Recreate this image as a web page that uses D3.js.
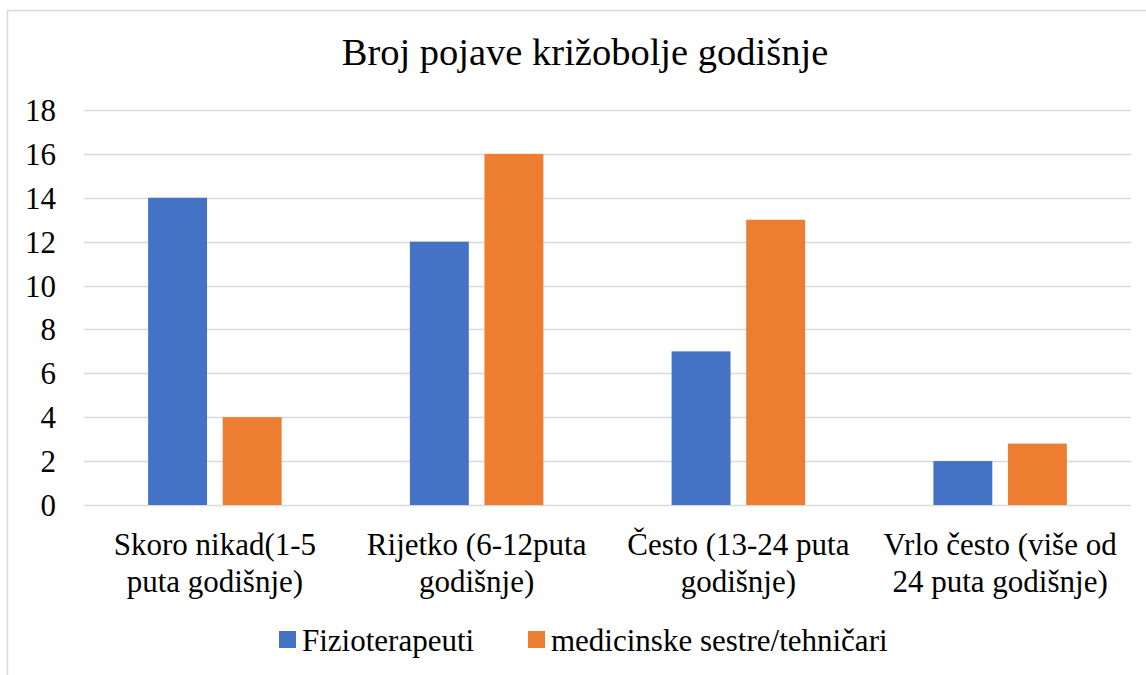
<!DOCTYPE html>
<html>
<head>
<meta charset="utf-8">
<script src="https://cdn.jsdelivr.net/npm/d3@7/dist/d3.min.js"></script>
<style>
  html, body { margin: 0; padding: 0; background: #fff; }
  svg { display: block; }
</style>
</head>
<body>
<svg id="chart" width="1146" height="675"></svg>
<script>
const title = "Broj pojave križobolje godišnje";
const categories = [
  ["Skoro nikad(1-5", "puta godišnje)"],
  ["Rijetko (6-12puta", "godišnje)"],
  ["Često (13-24 puta", "godišnje)"],
  ["Vrlo često (više od", "24 puta godišnje)"]
];
const seriesNames = ["Fizioterapeuti", "medicinske sestre/tehničari"];
const fizioterapeuti = [14, 12, 7, 2];
const sestre = [4, 16, 13, 2.8];
const yTicks = [0, 2, 4, 6, 8, 10, 12, 14, 16, 18];
const colors = ["#4472C4", "#ED7D31"];

const seriesValues = [fizioterapeuti, sestre];
const catKeys = categories.map((c, i) => i);

const svg = d3.select("#chart");
const W = 1146, H = 675;

function txt(sel) {
  return sel.append("text").attr("font-family", "Liberation Serif").style("font-family", "Liberation Serif");
}

// chart border
svg.append("rect")
  .attr("x", 7.5).attr("y", 10.5)
  .attr("width", W + 10).attr("height", H + 10)
  .attr("fill", "none").attr("stroke", "#d9d9d9").attr("stroke-width", 1.5);

const plot = { left: 84, right: 1131, top: 110, bottom: 505 };

const x0 = d3.scaleBand().domain(catKeys)
  .range([plot.left, plot.right]).paddingInner(0.49).paddingOuter(0.245);
const x1 = d3.scaleBand().domain([0, 1])
  .range([0, x0.bandwidth()]).paddingInner(0.21);
const y = d3.scaleLinear().domain([0, 18]).range([plot.bottom, plot.top]);

// gridlines
svg.append("g").selectAll("line").data(yTicks).join("line")
  .attr("x1", plot.left).attr("x2", plot.right)
  .attr("y1", d => Math.round(y(d)) + 0.5).attr("y2", d => Math.round(y(d)) + 0.5)
  .attr("stroke", "#d9d9d9").attr("stroke-width", 1.5);

// y labels
const yl = svg.append("g");
yTicks.forEach(d => {
  txt(yl).attr("x", 56).attr("y", y(d) + 11)
    .attr("text-anchor", "end").attr("font-size", 31).text(d);
});

// bars
const groups = svg.append("g").selectAll("g").data(catKeys).join("g")
  .attr("transform", i => `translate(${x0(i)},0)`);
groups.selectAll("rect").data(i => seriesValues.map((s, k) => ({ k, v: s[i] }))).join("rect")
  .attr("x", d => x1(d.k))
  .attr("width", x1.bandwidth())
  .attr("y", d => y(d.v))
  .attr("height", d => y(0) - y(d.v))
  .attr("fill", d => colors[d.k]);

// category labels
const cl = svg.append("g");
catKeys.forEach(i => {
  const cx = x0(i) + x0.bandwidth() / 2;
  categories[i].forEach((line, j) => {
    txt(cl).attr("x", cx).attr("y", 555 + j * 36.5)
      .attr("text-anchor", "middle").attr("font-size", 31).text(line);
  });
});

// title
txt(svg).attr("x", 585).attr("y", 65)
  .attr("text-anchor", "middle").attr("font-size", 38.5).text(title);

// legend
const legendX = [279, 528];
seriesNames.forEach((name, i) => {
  svg.append("rect").attr("x", legendX[i]).attr("y", 631).attr("width", 17).attr("height", 17)
    .attr("fill", colors[i]);
  txt(svg).attr("x", legendX[i] + 23).attr("y", 651).attr("font-size", 31).text(name);
});
</script>
</body>
</html>
